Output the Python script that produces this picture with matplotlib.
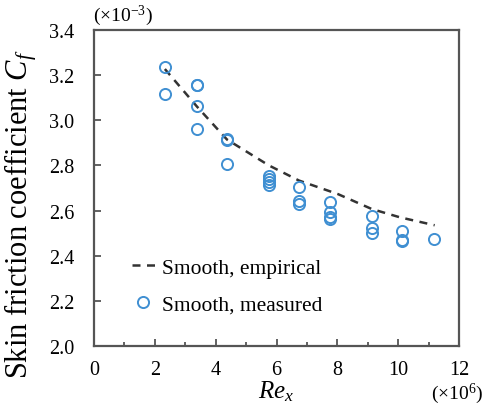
import matplotlib
matplotlib.use("Agg")
import matplotlib.pyplot as plt

plt.rcParams["font.family"] = ["Liberation Serif", "DejaVu Serif"]
plt.rcParams["mathtext.fontset"] = "custom"
plt.rcParams["mathtext.rm"] = "Liberation Serif"
plt.rcParams["mathtext.it"] = "Liberation Serif:italic"

# measured points (Re_x in 1e6, Cf in 1e-3)
re_measured = [2.33, 2.33,
               3.39, 3.39, 3.39, 3.39,
               4.37, 4.37, 4.37,
               5.75, 5.75, 5.75, 5.75,
               6.74, 6.74, 6.74,
               7.76, 7.76, 7.76, 7.76,
               9.13, 9.13, 9.13,
               10.13, 10.13, 10.13,
               11.18]
cf_measured = [3.237, 3.116,
               3.156, 3.158, 3.062, 2.961,
               2.914, 2.918, 2.806,
               2.755, 2.74, 2.725, 2.713,
               2.703, 2.641, 2.629,
               2.637, 2.595, 2.563, 2.57,
               2.577, 2.521, 2.502,
               2.511, 2.467, 2.47,
               2.474]

# empirical curve
re_empirical = [2.33, 3.39, 4.37, 5.75, 6.74, 8.02, 9.13, 10.06, 11.2]
cf_empirical = [3.227, 3.06, 2.915, 2.80, 2.733, 2.673, 2.607, 2.57, 2.535]

blue = "#3f8fd2"
spine = "#555555"

fig = plt.figure(figsize=(4.84, 4.10), dpi=100)
ax = fig.add_axes([94 / 484, 1 - 347 / 410, 365 / 484, 316 / 410])

ax.plot(re_empirical, cf_empirical, ls=(0, (3.2, 2.6)), color="#333333",
        lw=1.8, label="Smooth, empirical")
ax.plot(re_measured, cf_measured, ls="none", marker="o", ms=8, mfc="none",
        mec=blue, mew=1.4, label="Smooth, measured")

ax.set_xlim(0, 12)
ax.set_ylim(2.0, 3.4)
ax.set_xticks(range(0, 13, 2))
ax.set_xticks(range(1, 12, 2), minor=True)
ax.set_yticks([2.0, 2.2, 2.4, 2.6, 2.8, 3.0, 3.2, 3.4])
ax.set_yticklabels(["2.0", "2.2", "2.4", "2.6", "2.8", "3.0", "3.2", "3.4"])

ax.tick_params(axis="both", which="both", direction="in", color=spine,
               labelsize=14.5, width=1.3)
ax.tick_params(axis="x", which="major", length=5, pad=10)
ax.tick_params(axis="x", which="minor", length=3)
ax.tick_params(axis="y", which="major", length=5, pad=14)
for s in ax.spines.values():
    s.set_color(spine)
    s.set_linewidth(1.6)

ax.set_ylabel("Skin friction coefficient $C_f$", fontsize=22)
ax.yaxis.set_label_coords(-0.15, 0.42)
ax.set_xlabel("$Re_x$", fontsize=18, labelpad=0)

fig.text(93 / 484, 1 - 16 / 410, "(×10$^{-3}$)", fontsize=14,
         ha="left", va="center")
fig.text(483 / 484, 1 - 394 / 410, "(×10$^{6}$)", fontsize=14,
         ha="right", va="center")

ax.legend(loc="upper left", bbox_to_anchor=(0.05, 0.34), frameon=False,
          fontsize=15.5, handlelength=1.1, handletextpad=0.3,
          labelspacing=0.75, markerscale=1.0)

fig.savefig("out.png", dpi=100)
